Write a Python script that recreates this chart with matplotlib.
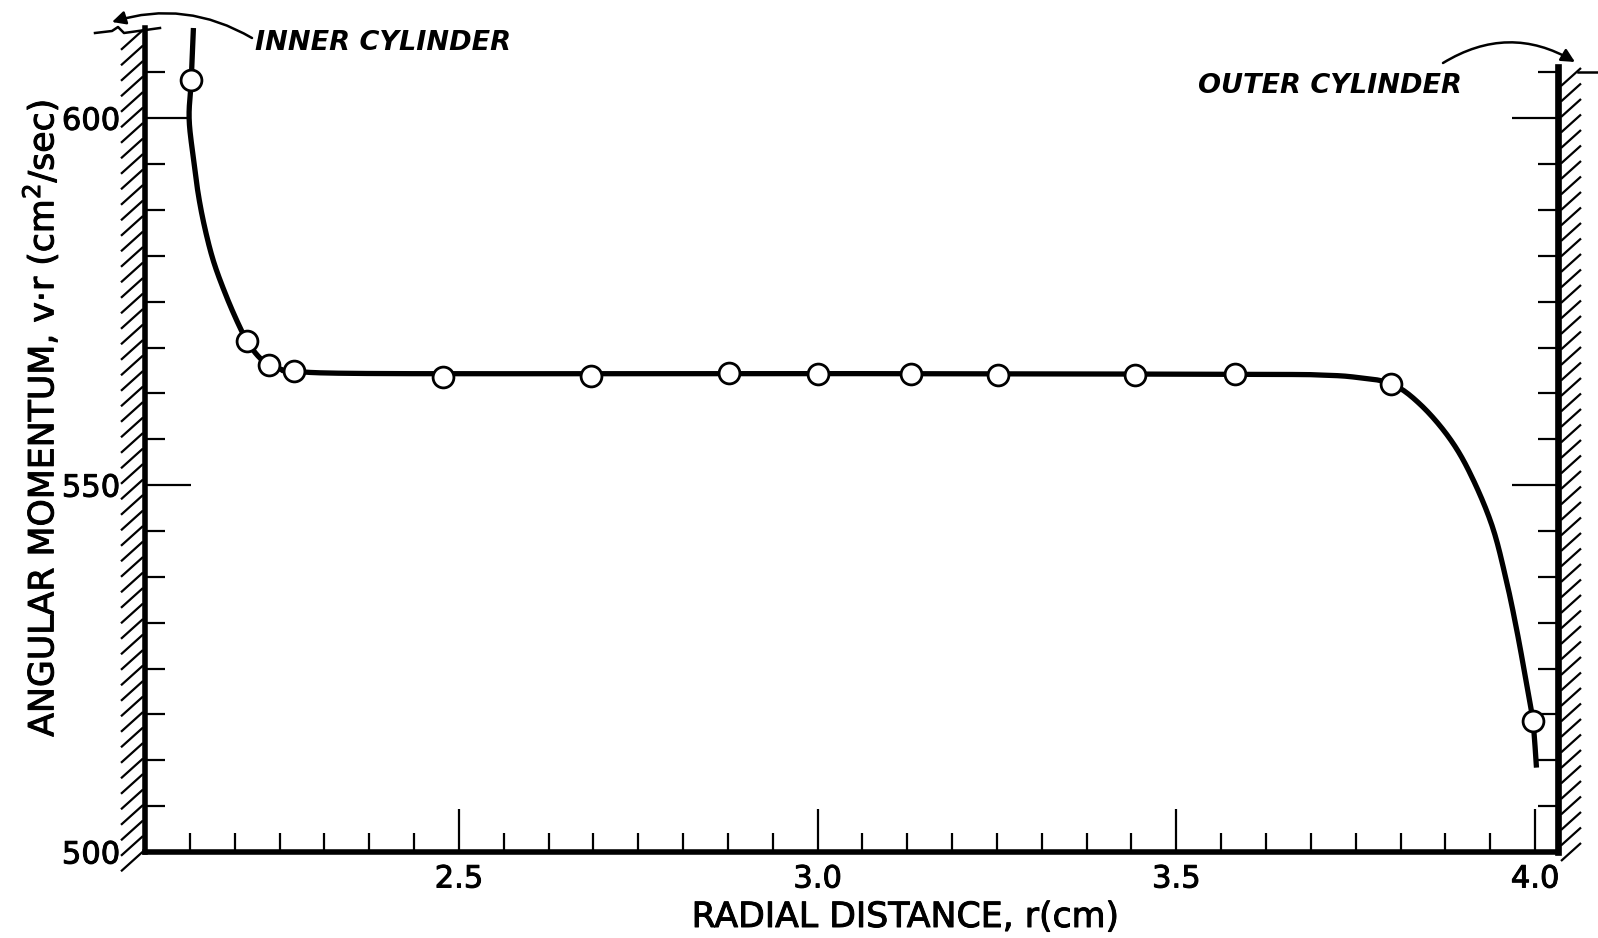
import matplotlib
matplotlib.use("Agg")
import numpy as np
from matplotlib import pyplot as plt
from matplotlib import patheffects
from matplotlib.lines import Line2D
from matplotlib.collections import LineCollection
from matplotlib.ticker import MultipleLocator

# measured points: radial distance (cm) and angular momentum v*r (cm^2/sec)
r_pts = [2.127, 2.205, 2.235, 2.270, 2.478, 2.684, 2.876, 3.000,
         3.130, 3.252, 3.442, 3.582, 3.799, 3.997]
v_pts = [605.2, 569.6, 566.4, 565.6, 564.8, 564.9, 565.3, 565.1,
         565.2, 565.0, 565.0, 565.1, 563.8, 517.8]

# faired curve drawn through the points
fit_r = [2.130, 2.127, 2.124, 2.130, 2.137, 2.146, 2.158, 2.174, 2.191,
         2.205, 2.220, 2.235, 2.252, 2.270, 2.40, 3.00, 3.60, 3.70,
         3.75, 3.80, 3.84, 3.88, 3.91, 3.94, 3.96, 3.975, 3.988, 3.997, 4.002]
fit_v = [612.3, 605.2, 600.0, 594.5, 589.5, 585.0, 580.5, 576.2, 572.3,
         569.6, 567.6, 566.4, 565.8, 565.5, 565.2, 565.2, 565.1, 565.0,
         564.7, 563.8, 561.0, 556.5, 551.5, 544.5, 537.0, 530.0, 523.0, 517.8, 511.5]

x_major = [2.5, 3.0, 3.5, 4.0]
x_labels = ["2.5", "3.0", "3.5", "4.0"]
y_major = [500, 550, 600]
y_labels = ["500", "550", "600"]

W, H = 1598, 938
plt.rcParams["font.family"] = ["DejaVu Sans"]
heavy = [patheffects.withStroke(linewidth=0.7, foreground="k")]


def px(x, y):
    """image pixel position -> figure fraction"""
    return x / W, 1 - y / H


def smooth(xs, ys, n=12):
    """Catmull-Rom pass so the faired line has no corners"""
    p = np.column_stack([xs, ys]).astype(float)
    p = np.vstack([p[0], p, p[-1]])
    out = []
    for i in range(1, len(p) - 2):
        p0, p1, p2, p3 = p[i - 1], p[i], p[i + 1], p[i + 2]
        for t in np.linspace(0, 1, n, endpoint=False):
            t2, t3 = t * t, t * t * t
            out.append(0.5 * (2 * p1 + (-p0 + p2) * t + (2 * p0 - 5 * p1 + 4 * p2 - p3) * t2
                              + (-p0 + 3 * p1 - 3 * p2 + p3) * t3))
    out.append(p[-2])
    out = np.array(out)
    return out[:, 0], out[:, 1]


def wall(x0, x1, y_top, y_bot, step=15.5):
    """diagonal strokes of a hatched wall between x0 and x1 (pixels)"""
    rise = (x1 - x0) * 0.9
    segs = []
    y = y_top + rise
    while y <= y_bot:
        segs.append([px(x0, y), px(x1, y - rise)])
        y += step
    fig.add_artist(LineCollection(segs, transform=fig.transFigure, colors="k", linewidths=1.6))


fig = plt.figure(figsize=(W / 100, H / 100), dpi=100)
ax = fig.add_axes([145 / W, 1 - 852 / H, (1558 - 145) / W, (852 - 28) / H])
ax.set_xlim(2.0625, 4.032)
ax.set_ylim(500, 612.3)

cr, cv = smooth(fit_r, fit_v)
ax.plot(cr, cv, color="k", lw=3.8, solid_capstyle="butt", clip_on=False, zorder=3)
ax.plot(r_pts, v_pts, "o", ms=15, mfc="white", mec="k", mew=2.0, zorder=4, clip_on=False)

# spines
ax.spines["top"].set_visible(False)
for s in ["left", "bottom", "right"]:
    ax.spines[s].set_linewidth(4)
ax.spines["right"].set_linewidth(4.8)
ax.spines["right"].set_bounds(500, 607)

# ticks
ax.set_xticks(x_major)
ax.set_xticklabels(x_labels)
ax.xaxis.set_minor_locator(MultipleLocator(0.0625))
ax.set_yticks(y_major)
ax.set_yticklabels(y_labels)
ax.yaxis.set_minor_locator(MultipleLocator(6.25))
ax.tick_params(axis="x", which="major", direction="in", length=31, width=1.6,
               pad=9, labelsize=22)
ax.tick_params(axis="x", which="minor", direction="in", length=13.5, width=1.6)
ax.tick_params(axis="y", which="major", direction="in", length=33, width=1.6,
               pad=18, labelsize=22, left=True, right=True)
ax.tick_params(axis="y", which="minor", direction="in", length=14.5, width=1.6,
               left=True, right=True)
for lab in ax.get_xticklabels() + ax.get_yticklabels():
    lab.set_path_effects(heavy)

fig.text(*px(905, 917), "RADIAL DISTANCE, r(cm)", fontsize=25, ha="center", va="center",
         path_effects=heavy)
fig.text(*px(40, 418), r"ANGULAR MOMENTUM, v$\cdot$r (cm$^2$/sec)", fontsize=25,
         rotation=90, ha="center", va="center", path_effects=heavy)

# hatched cylinder walls
wall(121, 143, 30, 872)
wall(1561, 1581, 68, 872)

# break line at top of inner wall, cap at top of outer wall
for xs, ys in [([95, 112, 118, 124, 160], [33, 31, 27, 33, 28]),
               ([1578, 1597], [72, 72])]:
    pts = [px(x, y) for x, y in zip(xs, ys)]
    fig.add_artist(Line2D([p[0] for p in pts], [p[1] for p in pts],
                          transform=fig.transFigure, color="k", lw=1.8))

# cylinder annotations
fig.text(*px(255, 43), "INNER CYLINDER", fontsize=19.5, style="italic", weight="bold",
         ha="left", va="center")
fig.text(*px(1198, 86), "OUTER CYLINDER", fontsize=19.5, style="italic", weight="bold",
         ha="left", va="center")
arrow = dict(arrowstyle="-|>", color="k", lw=1.8, mutation_scale=20, shrinkA=0, shrinkB=0)
ax.annotate("", xy=(112, H - 22), xytext=(252, H - 38), xycoords="figure pixels",
            textcoords="figure pixels",
            arrowprops=dict(arrow, connectionstyle="arc3,rad=0.22"))
ax.annotate("", xy=(1575, H - 62), xytext=(1443, H - 63), xycoords="figure pixels",
            textcoords="figure pixels",
            arrowprops=dict(arrow, connectionstyle="arc3,rad=-0.3"))

fig.savefig("out.png", dpi=100)
